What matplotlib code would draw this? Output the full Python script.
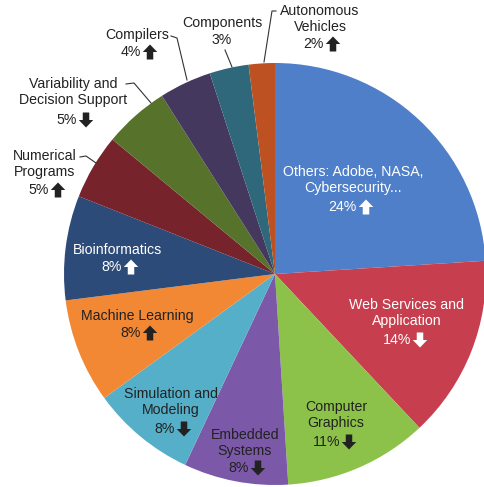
import matplotlib.pyplot as plt

plt.rcParams['font.family'] = ['Liberation Sans', 'DejaVu Sans']

# data
categories = ['Others: Adobe, NASA,\nCybersecurity...', 'Web Services and\nApplication',
              'Computer\nGraphics', 'Embedded\nSystems', 'Simulation and\nModeling',
              'Machine Learning', 'Bioinformatics', 'Numerical\nPrograms',
              'Variability and\nDecision Support', 'Compilers', 'Components',
              'Autonomous\nVehicles']
shares = [24, 14, 11, 8, 8, 8, 8, 5, 5, 4, 3, 2]
trends = ['up', 'down', 'down', 'down', 'down', 'up', 'up', 'up', 'down', 'up', '', 'up']

colors = ['#4F7FC8', '#C73F4E', '#8DC24A', '#7B58A8', '#56AFC9', '#F38834',
          '#2D4B78', '#77232C', '#56722B', '#45385F', '#2E687A', '#BD5121']
text_colors = ['white', 'white', '#222222', '#222222', '#222222', '#222222',
               'white', '#222222', '#222222', '#222222', '#222222', '#222222']

# label layout (pixel coords, y from top): centre of the name block, y of the % line
name_pos = [(353, 180), (407, 313), (336, 415), (245, 443), (171, 402),
            (137, 316), (118, 250), (45, 164), (73, 92), (137, 35),
            (222, 23), (320, 19)]
pct_y = [207, 340, 442, 468, 429, 333, 267, 190, 120, 52, 40, 44]
leaders = {7: [(80, 157), (86, 156), (96, 163)],
           8: [(126, 84), (134, 83), (151, 103)],
           9: [(171, 36), (177, 38), (187, 80)],
           10: [(225, 50), (232, 67)],
           11: [(276, 11), (272, 11), (264, 62)]}

W, H = 485, 487
fig = plt.figure(figsize=(W / 100, H / 100), dpi=100)
ax = fig.add_axes([0, 0, 1, 1])

ax.pie(shares, colors=colors, startangle=90, counterclock=False,
       center=(275, H - 274), radius=211, frame=True,
       wedgeprops=dict(linewidth=0))
ax.set_xlim(0, W)
ax.set_ylim(0, H)
ax.set_aspect('equal')
ax.axis('off')

for i, cat in enumerate(categories):
    x, y = name_pos[i]
    c = text_colors[i]
    ax.text(x, H - y, cat, ha='center', va='center', fontsize=10.2,
            color=c, linespacing=1.2)
    pct = str(shares[i]) + '%'
    if trends[i]:
        ax.text(x + 4, H - pct_y[i], pct, ha='right', va='center',
                fontsize=10.2, color=c)
        ay = H - pct_y[i]
        sign = 1 if trends[i] == 'up' else -1
        ax.arrow(x + 13, ay - sign * 7.5, 0, sign * 15, width=6.5, head_width=14.5,
                 head_length=7.5, length_includes_head=True, color=c, lw=0)
    else:
        ax.text(x, H - pct_y[i], pct, ha='center', va='center',
                fontsize=10.2, color=c)

for i, pts in leaders.items():
    ax.plot([p[0] for p in pts], [H - p[1] for p in pts], color='#333333', lw=0.8)

fig.savefig('out.png', dpi=100)
